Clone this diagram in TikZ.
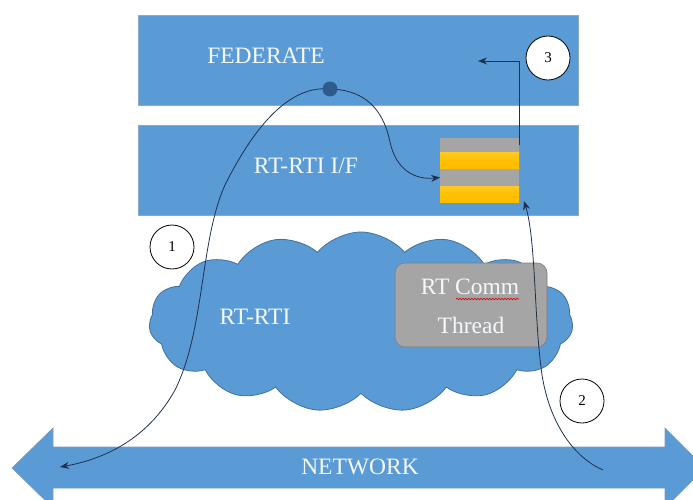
\documentclass[tikz,border=0pt]{standalone}
\usepackage{fontspec}
\setmainfont{Liberation Serif}
\usetikzlibrary{arrows.meta,shapes.symbols,decorations.pathmorphing}
\definecolor{ofblue}{HTML}{5B9BD5}
\definecolor{ofedge}{HTML}{41719C}
\definecolor{ofgray}{HTML}{A5A5A5}
\definecolor{ofgold}{HTML}{FFC000}
\definecolor{linec}{HTML}{1F3050}
\definecolor{dotc}{HTML}{2E5A8C}
\definecolor{txt}{HTML}{F4F8FC}
\begin{document}
\begin{tikzpicture}[x=1pt,y=-1pt,
  layerbox/.style={draw=ofedge!60, line width=0.6pt, fill=ofblue, minimum width=440pt, minimum height=90pt, inner sep=0},
  bigtext/.style={text=txt, font=\fontsize{23.5}{27}\selectfont},
  numcirc/.style={circle, draw=black, line width=0.8pt, fill=white, minimum size=44pt, inner sep=0, font=\fontsize{15}{15}\selectfont},
  graybar/.style={fill=ofgray, minimum width=79pt, inner sep=0, outer sep=0},
  goldbar/.style={top color=ofgold!85!white, bottom color=ofgold!95!orange, middle color=ofgold, minimum width=79pt, inner sep=0, outer sep=0},
  conn/.style={draw=linec, line width=0.8pt, -{Stealth[length=9pt,width=7pt]}}
]
\useasboundingbox (0,0) rectangle (693,500);
\clip (0,0) rectangle (693,500);

% layers
\node[layerbox] (fed) at (358,60) {};
\node[layerbox] (rif) at (358,170) {};
\node[bigtext] (fedt) at (266,56) {FEDERATE};
\node[bigtext] (rift) at (306,166) {RT-RTI I/F};

% queue stack
\node[graybar, minimum height=14pt] (g1) at (479.5,145) {};
\node[goldbar, minimum height=17pt] (y1) at (479.5,160.5) {};
\node[graybar, minimum height=17pt] (g2) at (479.5,177.5) {};
\node[goldbar, minimum height=16pt] (y2) at (479.5,194) {};

% cloud
\node[cloud, cloud puffs=15, cloud puff arc=100, aspect=2.4, draw=ofedge, line width=0.8pt, fill=ofblue, minimum width=424pt, minimum height=180pt] (cl) at (361,322) {};
\node[bigtext] (rtit) at (255,317) {RT-RTI};

% comm thread box
\node[draw=ofgray!75!black, line width=0.6pt, fill=ofgray, rounded corners=10pt, minimum width=152pt, minimum height=84pt, inner sep=0] (comm) at (471,305) {};
\node[bigtext] (commt1) at (470,287) {RT Comm};
\node[bigtext] (commt2) at (471,325) {Thread};
\coordinate (ulA) at (456,299);
\coordinate (ulB) at (519,299);
\draw[red!85!black, line width=0.6pt, decorate, decoration={snake, segment length=3pt, amplitude=0.8pt}] (ulA) -- (ulB);

% network double arrow
\path[draw=ofedge!70, line width=0.6pt, fill=ofblue] (12,468) -- (53,428) -- (53,447) -- (665,447) -- (665,428) -- (705,468) -- (665,508) -- (665,488) -- (53,488) -- (53,508) -- cycle;
\node[bigtext] (net) at (360,467) {NETWORK};

% numbered circles
\node[numcirc] (c1) at (172,247) {1};
\node[numcirc] (c2) at (582,401) {2};
\node[numcirc] (c3) at (548,58) {3};

% connector points
\coordinate (dotp) at (330,89);
\coordinate (tipA) at (60,467);
\coordinate (start2) at (603,470);
\coordinate (tip2) at (524,201);
\coordinate (start3) at (519,145);
\coordinate (tip3) at (478,61);

% connectors
\draw[conn] (dotp) .. controls (290,85) and (255,125) .. (225,185) .. controls (200,240) and (205,330) .. (175,390) .. controls (150,435) and (110,458) .. (tipA);
\draw[conn] (dotp) .. controls (372,90) and (385,118) .. (390,142) .. controls (396,170) and (415,180) .. (g2.west);
\draw[conn] (start2) .. controls (575,458) and (550,425) .. (542,375) .. controls (534,320) and (536,240) .. (tip2);
\draw[conn] (start3) |- (tip3);

% dot
\node[circle, fill=dotc, minimum size=15pt, inner sep=0] (dot) at (dotp) {};
\end{tikzpicture}
\end{document}
